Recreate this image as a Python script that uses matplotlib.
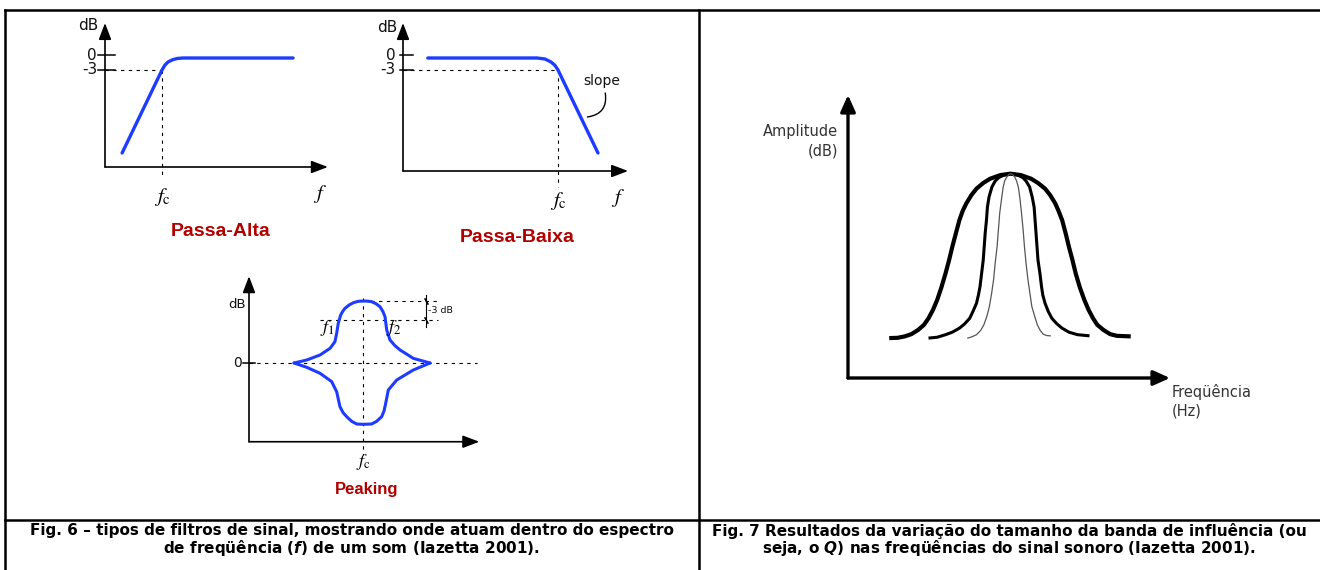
import numpy as np
import matplotlib.pyplot as plt

# --- values ------------------------------------------------------------
# Passa-Alta (frequency in units of fc, level in dB)
pa_freq = [0.30, 1.00, 1.053, 1.105, 1.175, 1.263, 1.368, 3.30]
pa_db = [-19.6, -3.0, -2.0, -1.4, -1.0, -0.7, -0.6, -0.6]

# Passa-Baixa
pb_freq = [0.16, 0.865, 0.916, 0.955, 0.981, 1.00, 1.258]
pb_db = [-0.6, -0.6, -0.8, -1.4, -2.1, -3.0, -19.6]

# Peaking (boost and cut branches)
pk_up_freq = [0.395, 0.506, 0.623, 0.711, 0.754, 0.769, 0.783, 0.804, 0.823, 0.842,
              0.878, 0.915, 0.958, 1.003, 1.040, 1.076, 1.115, 1.149, 1.175, 1.193,
              1.208, 1.237, 1.280, 1.325, 1.441, 1.588]
pk_up_db = [0.0, 0.48, 1.29, 2.37, 3.44, 4.79, 6.4, 7.74, 8.35, 8.82,
            9.35, 9.72, 9.95, 10.0, 9.98, 9.89, 9.55, 9.08, 8.3, 7.47,
            5.32, 3.71, 2.8, 2.1, 0.75, 0.0]
pk_dn_freq = [0.395, 0.506, 0.623, 0.725, 0.769, 0.798, 0.825, 0.857, 0.900, 0.945,
              1.003, 1.076, 1.120, 1.164, 1.185, 1.199, 1.222, 1.296, 1.441, 1.588]
pk_dn_db = [0.0, -0.69, -1.66, -3.0, -4.63, -7.05, -8.0, -8.66, -9.4, -9.84,
            -9.89, -9.84, -9.4, -8.66, -7.7, -6.50, -4.35, -2.74, -1.13, 0.0]

# Fig. 7: three band widths (frequency and amplitude, arbitrary units)
wide_f = [12.8, 15.4, 17.6, 19.7, 21.8, 23.6, 25.0, 26.4, 27.7, 29.0, 30.3, 31.4,
          32.4, 33.5, 34.6, 35.6, 36.7, 38.3, 39.9, 42.0, 44.1, 47.3, 50.5,
          53.7, 56.9, 59.0, 61.2, 62.8, 64.4, 65.4, 66.5, 67.6, 68.6, 69.7, 70.7,
          72.0, 73.4, 74.7, 76.1, 77.4, 79.3, 81.4, 83.5, 87.8]
wide_a = [14.1, 14.2, 14.7, 15.5, 17.0, 18.8, 21.1, 24.1, 27.6, 32.0, 37.0, 41.7,
          46.4, 51.1, 55.8, 59.0, 61.6, 64.6, 66.9, 68.9, 70.4, 71.7, 72.2,
          71.7, 70.4, 68.9, 66.9, 64.6, 61.6, 59.0, 55.8, 51.1, 46.4, 41.7, 37.0,
          32.0, 27.6, 24.1, 21.1, 18.8, 17.0, 15.5, 14.9, 14.7]
mid_f = [25.0, 27.7, 30.3, 32.4, 34.6, 36.2, 37.8, 38.8, 39.9, 40.5, 41.0, 41.5,
         42.0, 42.3, 42.6, 43.0, 43.3, 43.8, 44.7, 45.7, 46.8, 48.4, 50.5,
         52.7, 54.3, 55.3, 56.4, 57.2, 57.8, 58.1, 58.4, 58.7, 59.0, 59.6, 60.1,
         60.5, 61.2, 62.2, 63.3, 64.9, 66.5, 68.6, 71.3, 75.0]
mid_a = [14.1, 14.4, 15.3, 16.2, 17.6, 19.1, 21.1, 23.5, 26.4, 29.3, 32.3, 37.0,
         41.7, 46.4, 51.1, 55.8, 60.4, 64.0, 67.5, 69.6, 70.8, 71.7, 72.2,
         71.7, 70.8, 69.6, 67.5, 64.0, 60.4, 55.8, 51.1, 46.4, 41.7, 37.0, 32.3,
         29.3, 26.4, 23.5, 21.1, 19.1, 17.6, 16.2, 15.3, 14.9]
narrow_f = [37.2, 38.6, 39.9, 41.2, 42.2, 43.1, 43.9, 44.6, 45.2, 45.7, 46.3, 46.7,
            47.1, 47.7, 48.2, 48.7, 49.3, 49.9, 50.5, 51.2, 51.8, 52.3, 52.9, 53.4,
            53.9, 54.4, 54.8, 55.3, 55.9, 56.5, 57.1, 58.0, 58.8, 59.7, 60.6, 61.7, 62.8]
narrow_a = [14.1, 14.6, 15.3, 16.8, 18.8, 21.7, 25.2, 29.9, 34.6, 40.5, 46.4, 52.2,
            58.1, 63.4, 67.5, 69.8, 71.0, 71.8, 72.2, 71.8, 71.0, 69.8, 67.5, 63.4,
            58.1, 52.2, 46.4, 40.5, 34.6, 29.9, 25.2, 21.7, 18.8, 16.8, 15.5, 15.0, 14.9]

caption6 = ["Fig. 6 \u2013 tipos de filtros de sinal, mostrando onde atuam dentro do espectro",
            r"de freqüência ($\mathbfit{f}$) de um som (Iazetta 2001)."]
caption7 = ["Fig. 7 Resultados da variação do tamanho da banda de influência (ou",
            r"seja, o $\mathbfit{Q}$) nas freqüências do sinal sonoro (Iazetta 2001)."]

W, H = 1320, 570
BLUE = '#1e3cff'
RED = '#b00000'

fig = plt.figure(figsize=(W / 100, H / 100), dpi=100)

# table frame
frame = fig.add_axes([0, 0, 1, 1])
frame.set_xlim(0, W)
frame.set_ylim(H, 0)
frame.axis('off')
for xs, ys in [([5, W], [10, 10]), ([5, W], [520, 520]), ([5, 5], [10, H]), ([699, 699], [10, H])]:
    frame.plot(xs, ys, color='k', lw=1.8, solid_capstyle='projecting')


def panel(ox, oy, sx, sy, x0, x1, y0, y1):
    # data (0,0) sits at pixel (ox, oy); sx, sy are pixels per data unit
    left, right = ox + x0 * sx, ox + x1 * sx
    bottom, top = oy - y0 * sy, oy - y1 * sy
    ax = fig.add_axes([left / W, 1 - bottom / H, (right - left) / W, (bottom - top) / H])
    ax.set_xlim(x0, x1)
    ax.set_ylim(y0, y1)
    ax.axis('off')
    return ax


def arrow(ax, start, end, lw, hl, hw):
    ax.annotate('', xy=end, xytext=start, annotation_clip=False,
                arrowprops=dict(arrowstyle=f'-|>,head_length={hl},head_width={hw}',
                                lw=lw, color='k', shrinkA=0, shrinkB=0,
                                mutation_scale=10))


dot = dict(color='k', lw=0.8, ls=(0, (3, 4)), clip_on=False)
lab = dict(fontsize=11, color='#111')
fsym = dict(fontsize=15, math_fontfamily='stix', ha='center', va='center')
smooth = dict(solid_joinstyle='round', solid_capstyle='round')

# ---- Passa-Alta ----
ax = panel(105, 55, 57, 5, -0.8, 4.2, -40, 8)
floor = -22.4
arrow(ax, (0, floor), (0, 6.4), 1.2, 1.0, 0.38)
arrow(ax, (0, floor), (3.91, floor), 1.2, 1.0, 0.38)
for v in [0, -3]:
    ax.plot([-0.123, 0.175], [v, v], color='k', lw=1.1)
ax.text(-0.14, 0, '0', ha='right', va='center', **lab)
ax.text(-0.14, -3, '-3', ha='right', va='center', **lab)
ax.text(-0.12, 6.0, 'dB', ha='right', va='center', **lab)
ax.plot([0, 1], [-3, -3], **dot)
ax.plot([1, 1], [-3, -24.4], **dot)
ax.plot(pa_freq, pa_db, color=BLUE, lw=2.4, **smooth)
ax.text(1.0, -28.4, r'$f_{\mathrm{c}}$', **fsym)
ax.text(3.77, -27.8, r'$f$', **fsym)
ax.text(2.02, -35.4, 'Passa-Alta', ha='center', va='center', color=RED,
        fontsize=14, fontweight='bold', family='Liberation Sans')

# ---- Passa-Baixa ----
ax = panel(403, 55, 155, 5, -0.3, 1.6, -40, 8)
floor = -23.2
arrow(ax, (0, floor), (0, 6.4), 1.2, 1.0, 0.38)
arrow(ax, (0, floor), (1.452, floor), 1.2, 1.0, 0.38)
for v in [0, -3]:
    ax.plot([-0.02, 0.065], [v, v], color='k', lw=1.1)
ax.text(-0.05, 0, '0', ha='right', va='center', **lab)
ax.text(-0.05, -3, '-3', ha='right', va='center', **lab)
ax.text(-0.035, 5.6, 'dB', ha='right', va='center', **lab)
ax.plot([0, 1], [-3, -3], **dot)
ax.plot([1, 1], [-3, -26.4], **dot)
ax.plot(pb_freq, pb_db, color=BLUE, lw=2.4, **smooth)
ax.text(1.285, -5.2, 'slope', ha='center', va='center', fontsize=10, color='#111')
ax.annotate('', xy=(1.19, -12.4), xytext=(1.305, -7.6), annotation_clip=False,
            arrowprops=dict(arrowstyle='-', lw=1.0, color='k',
                            connectionstyle='arc3,rad=-0.5', shrinkA=0, shrinkB=0))
ax.text(1.0, -29.2, r'$f_{\mathrm{c}}$', **fsym)
ax.text(1.387, -28.6, r'$f$', **fsym)
ax.text(0.735, -36.6, 'Passa-Baixa', ha='center', va='center', color=RED,
        fontsize=14, fontweight='bold', family='Liberation Sans')

# ---- Peaking ----
ax = panel(249, 363, 114, 6.2, -0.3, 2.2, -22, 15)
floor = -12.7
arrow(ax, (0, floor), (0, 14.0), 1.2, 1.0, 0.38)
arrow(ax, (0, floor), (2.02, floor), 1.2, 1.0, 0.38)
ax.plot([-0.05, 0.05], [0, 0], color='k', lw=1.1)
ax.text(-0.06, 0, '0', ha='right', va='center', fontsize=10, color='#111')
ax.text(-0.03, 9.4, 'dB', ha='right', va='center', fontsize=9.5, color='#111')
ax.plot([0, 2.0], [0, 0], **dot)
ax.plot([1, 1], [10.5, -14.8], **dot)
ax.plot([1, 1.658], [10, 10], **dot)
ax.plot([0.623, 1.658], [7, 7], **dot)
ax.plot([1.553, 1.553], [10.9, 5.8], color='k', lw=0.8)
ax.plot([1.553, 1.553], [10, 7], ls='none', marker=(2, 2, 30), ms=5, mew=0.8, color='k')
ax.text(1.572, 8.5, '-3 dB', ha='left', va='center', fontsize=6.8, color='#111')
ax.plot(pk_up_freq, pk_up_db, color=BLUE, lw=2.2, **smooth)
ax.plot(pk_dn_freq, pk_dn_db, color=BLUE, lw=2.2, **smooth)
ax.text(0.69, 5.6, r'$f_1$', fontsize=13, math_fontfamily='stix', ha='center', va='center')
ax.text(1.27, 5.6, r'$f_2$', fontsize=13, math_fontfamily='stix', ha='center', va='center')
ax.text(1.0, -16.0, r'$f_{\mathrm{c}}$', fontsize=13, math_fontfamily='stix',
        ha='center', va='center')
ax.text(1.035, -20.4, 'Peaking', ha='center', va='center', color=RED,
        fontsize=12, fontweight='bold', family='Liberation Sans')

# ---- Fig. 7 ----
ax = panel(848, 378, 3.22, 2.83, -30, 140, -20, 105)
arrow(ax, (0, 0), (0, 100), 2.4, 1.0, 0.45)
arrow(ax, (0, 0), (100, 0), 2.4, 1.0, 0.45)
ax.plot(wide_f, wide_a, color='k', lw=3.0, solid_joinstyle='round', solid_capstyle='butt')
ax.plot(mid_f, mid_a, color='k', lw=2.2, solid_joinstyle='round', solid_capstyle='butt')
ax.plot(narrow_f, narrow_a, color='#555', lw=0.9, solid_joinstyle='round')
ax.text(-3.1, 87.2, 'Amplitude', ha='right', va='center', fontsize=10.5, color='#333')
ax.text(-3.1, 80.3, '(dB)', ha='right', va='center', fontsize=10.5, color='#333')
ax.text(100.6, -5.1, 'Freqüência', ha='left', va='center', fontsize=10.5, color='#333')
ax.text(100.6, -11.5, '(Hz)', ha='left', va='center', fontsize=10.5, color='#333')

# ---- captions ----
for i, line in enumerate(caption6):
    fig.text(352 / W, 1 - (531 + 17 * i) / H, line, ha='center', va='center',
             fontsize=11, fontweight='bold', math_fontfamily='dejavusans')
for i, line in enumerate(caption7):
    fig.text(1009 / W, 1 - (531 + 17 * i) / H, line, ha='center', va='center',
             fontsize=11, fontweight='bold', math_fontfamily='dejavusans')

fig.savefig('out.png', dpi=100)
